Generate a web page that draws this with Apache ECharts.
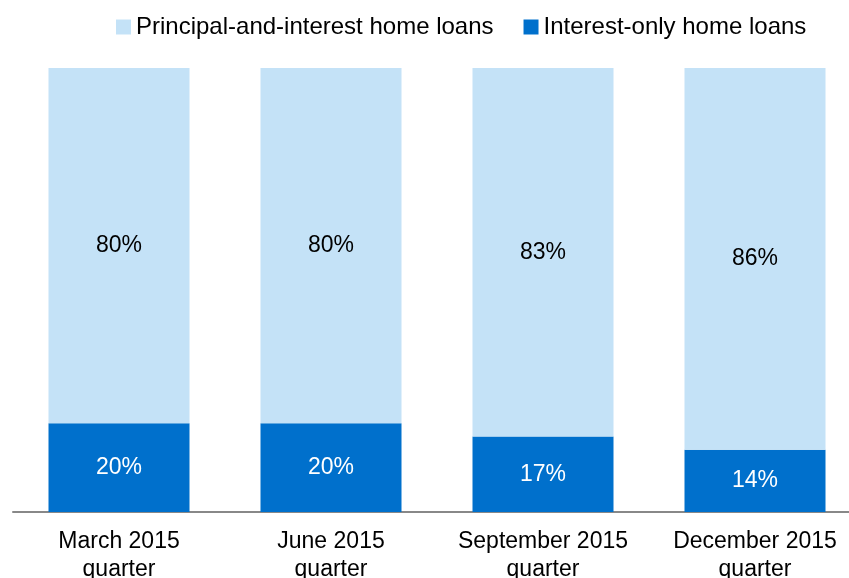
<!DOCTYPE html>
<html>
<head>
<meta charset="UTF-8">
<title>Home loans</title>
<script src="https://cdn.jsdelivr.net/npm/echarts@6/dist/echarts.min.js"></script>
<style>
html, body { margin: 0; padding: 0; background: #fff; }
#chart { width: 849px; height: 578px; }
</style>
</head>
<body>
<div id="chart"></div>
<script>
var categories = ['March 2015\nquarter', 'June 2015\nquarter', 'September 2015\nquarter', 'December 2015\nquarter'];
var interestOnly = [20, 20, 17, 14];
var principalInterest = [80, 80, 83, 86];
var seriesNames = ['Principal-and-interest home loans', 'Interest-only home loans'];

var FONT = '"Liberation Sans", Arial, sans-serif';
var chart = echarts.init(document.getElementById('chart'));

var option = {
    animation: false,
    textStyle: { fontFamily: FONT },
    legend: {
        data: seriesNames,
        left: 111,
        top: 10,
        itemWidth: 15,
        itemHeight: 15,
        itemGap: 30,
        icon: 'rect',
        textStyle: { fontFamily: FONT, fontSize: 24, color: '#000' }
    },
    grid: { left: 13, width: 848, top: 68, bottom: 66, outerBoundsMode: 'none' },
    xAxis: {
        type: 'category',
        data: categories,
        axisLine: { lineStyle: { color: '#888', width: 2 } },
        axisTick: { show: false },
        axisLabel: {
            fontFamily: FONT, fontSize: 23, color: '#000',
            lineHeight: 28, margin: 16, interval: 0
        }
    },
    yAxis: {
        type: 'value', min: 0, max: 100,
        show: false
    },
    series: [
        {
            name: seriesNames[1],
            type: 'bar',
            stack: 'total',
            barWidth: 141,
            data: interestOnly,
            itemStyle: { color: '#0070CC' },
            label: {
                show: true, position: 'inside', formatter: '{c}%',
                color: '#fff', fontFamily: FONT, fontSize: 23
            }
        },
        {
            name: seriesNames[0],
            type: 'bar',
            stack: 'total',
            barWidth: 141,
            data: principalInterest,
            itemStyle: { color: '#C4E2F7' },
            label: {
                show: true, position: 'inside', formatter: '{c}%',
                color: '#000', fontFamily: FONT, fontSize: 23
            }
        }
    ]
};
chart.setOption(option);
</script>
</body>
</html>
